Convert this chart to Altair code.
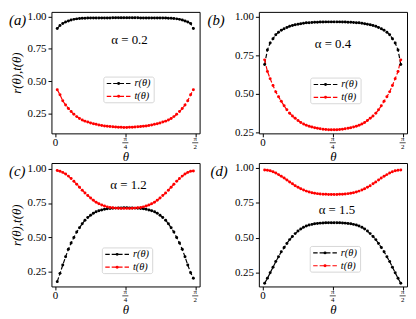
import altair as alt
import pandas as pd

FONT = "Liberation Serif"

theta = [0.020, 0.051, 0.082, 0.114, 0.145, 0.176, 0.207, 0.239, 0.270, 0.301,
         0.332, 0.363, 0.395, 0.426, 0.457, 0.488, 0.520, 0.551, 0.582, 0.613,
         0.644, 0.676, 0.707, 0.738, 0.769, 0.801, 0.832, 0.863, 0.894, 0.925,
         0.957, 0.988, 1.019, 1.050, 1.081, 1.113, 1.144, 1.175, 1.206, 1.238,
         1.269, 1.300, 1.331, 1.362, 1.394, 1.425, 1.456, 1.487, 1.519, 1.550]

r_a = [0.908, 0.932, 0.947, 0.958, 0.967, 0.974, 0.979, 0.983, 0.985, 0.987,
       0.988, 0.989, 0.989, 0.990, 0.990, 0.990, 0.990, 0.990, 0.990, 0.990,
       0.991, 0.991, 0.991, 0.991, 0.991, 0.991, 0.991, 0.991, 0.991, 0.991,
       0.990, 0.990, 0.990, 0.990, 0.990, 0.990, 0.990, 0.990, 0.989, 0.989,
       0.988, 0.987, 0.985, 0.983, 0.979, 0.974, 0.967, 0.958, 0.947, 0.908]
t_a = [0.433, 0.395, 0.348, 0.315, 0.288, 0.264, 0.243, 0.225, 0.211, 0.199,
       0.190, 0.183, 0.176, 0.170, 0.165, 0.160, 0.156, 0.153, 0.150, 0.148,
       0.146, 0.144, 0.143, 0.142, 0.141, 0.141, 0.142, 0.143, 0.144, 0.146,
       0.148, 0.150, 0.153, 0.156, 0.160, 0.165, 0.170, 0.176, 0.183, 0.190,
       0.199, 0.211, 0.225, 0.243, 0.264, 0.288, 0.315, 0.348, 0.395, 0.433]

r_b = [0.690, 0.785, 0.830, 0.858, 0.884, 0.900, 0.912, 0.922, 0.930, 0.938,
       0.944, 0.948, 0.951, 0.955, 0.958, 0.961, 0.962, 0.963, 0.964, 0.965,
       0.966, 0.966, 0.967, 0.967, 0.967, 0.967, 0.967, 0.967, 0.966, 0.966,
       0.965, 0.964, 0.963, 0.962, 0.961, 0.958, 0.955, 0.951, 0.948, 0.944,
       0.938, 0.930, 0.922, 0.912, 0.900, 0.884, 0.858, 0.830, 0.785, 0.690]
t_b = [0.720, 0.645, 0.598, 0.553, 0.512, 0.480, 0.451, 0.421, 0.395, 0.373,
       0.355, 0.340, 0.326, 0.313, 0.303, 0.295, 0.288, 0.283, 0.279, 0.275,
       0.272, 0.269, 0.267, 0.266, 0.265, 0.265, 0.266, 0.267, 0.269, 0.272,
       0.275, 0.279, 0.283, 0.288, 0.295, 0.303, 0.313, 0.326, 0.340, 0.355,
       0.373, 0.395, 0.421, 0.451, 0.480, 0.512, 0.553, 0.598, 0.645, 0.720]

r_c = [0.180, 0.240, 0.300, 0.360, 0.415, 0.460, 0.500, 0.540, 0.570, 0.600,
       0.625, 0.645, 0.662, 0.675, 0.686, 0.694, 0.700, 0.705, 0.708, 0.710,
       0.712, 0.713, 0.714, 0.714, 0.715, 0.715, 0.714, 0.714, 0.713, 0.712,
       0.710, 0.708, 0.705, 0.700, 0.694, 0.686, 0.675, 0.662, 0.645, 0.625,
       0.600, 0.570, 0.540, 0.500, 0.460, 0.415, 0.360, 0.300, 0.245, 0.205]
t_c = [0.985, 0.980, 0.972, 0.960, 0.945, 0.927, 0.907, 0.886, 0.864, 0.843,
       0.823, 0.804, 0.786, 0.770, 0.756, 0.744, 0.735, 0.728, 0.722, 0.718,
       0.715, 0.713, 0.712, 0.711, 0.711, 0.711, 0.711, 0.712, 0.713, 0.715,
       0.718, 0.722, 0.728, 0.735, 0.744, 0.756, 0.770, 0.786, 0.804, 0.823,
       0.843, 0.864, 0.886, 0.907, 0.927, 0.945, 0.960, 0.972, 0.980, 0.982]

r_d = [0.175, 0.210, 0.250, 0.290, 0.330, 0.365, 0.400, 0.430, 0.460, 0.487,
       0.510, 0.530, 0.548, 0.563, 0.575, 0.584, 0.591, 0.596, 0.600, 0.603,
       0.605, 0.606, 0.607, 0.607, 0.607, 0.607, 0.607, 0.607, 0.606, 0.605,
       0.603, 0.600, 0.596, 0.591, 0.584, 0.575, 0.563, 0.548, 0.530, 0.510,
       0.487, 0.460, 0.430, 0.400, 0.365, 0.330, 0.290, 0.250, 0.210, 0.175]
t_d = [0.985, 0.983, 0.979, 0.972, 0.963, 0.952, 0.940, 0.927, 0.913, 0.899,
       0.886, 0.873, 0.861, 0.851, 0.842, 0.834, 0.828, 0.823, 0.819, 0.816,
       0.814, 0.812, 0.811, 0.810, 0.810, 0.810, 0.810, 0.811, 0.812, 0.814,
       0.816, 0.819, 0.823, 0.828, 0.834, 0.842, 0.851, 0.861, 0.873, 0.886,
       0.899, 0.913, 0.927, 0.940, 0.952, 0.963, 0.972, 0.979, 0.983, 0.985]

series_names = ["r", "t"]
series_colors = ["black", "red"]
x_tick_values = [0, 0.785398, 1.570796]
x_tick_num = ["π", "π"]
x_tick_den = ["4", "2"]
y_tick_values = [0.25, 0.50, 0.75, 1.00]

W = 150


def legend_layers(x0, y0):
    c = alt.Chart(pd.DataFrame({"k": [0]}))
    layers = [
        c.mark_rect(fill="white", fillOpacity=0.85, stroke="#cccccc", strokeWidth=0.8,
                    cornerRadius=2).encode(
            x=alt.value(x0), x2=alt.value(x0 + 51), y=alt.value(y0), y2=alt.value(y0 + 26))
    ]
    for i, (name, col) in enumerate(zip(["r(θ)", "t(θ)"], series_colors)):
        yy = y0 + 6.5 + i * 13
        layers.append(c.mark_rule(color=col, strokeDash=[4.5, 2], strokeWidth=1.2).encode(
            x=alt.value(x0 + 3), x2=alt.value(x0 + 27), y=alt.value(yy)))
        layers.append(c.mark_circle(color=col, size=9, opacity=1).encode(
            x=alt.value(x0 + 15), y=alt.value(yy)))
        layers.append(c.mark_text(text=name, font=FONT, fontStyle="italic", fontSize=10.5,
                                  align="left", baseline="middle", color="black").encode(
            x=alt.value(x0 + 31), y=alt.value(yy)))
    return layers


def xlabel_layers(x, height):
    zero = pd.DataFrame({"theta": [x_tick_values[0]], "txt": ["0"]})
    num = pd.DataFrame({"theta": x_tick_values[1:], "txt": x_tick_num})
    den = pd.DataFrame({"theta": x_tick_values[1:], "txt": x_tick_den})
    bar = pd.DataFrame({"theta": [v - 0.034 for v in x_tick_values[1:]],
                        "theta2": [v + 0.034 for v in x_tick_values[1:]]})
    return [
        alt.Chart(zero).mark_text(font=FONT, fontSize=11, baseline="top", align="center",
                                  color="black").encode(x=x, y=alt.value(height + 3.5), text="txt:N"),
        alt.Chart(num).mark_text(font=FONT, fontSize=7, baseline="alphabetic", align="center",
                                 color="black").encode(x=x, y=alt.value(height + 8), text="txt:N"),
        alt.Chart(bar).mark_rule(color="black", strokeWidth=0.7).encode(
            x=x, x2="theta2:Q", y=alt.value(height + 9.5)),
        alt.Chart(den).mark_text(font=FONT, fontSize=7, baseline="alphabetic", align="center",
                                 color="black").encode(x=x, y=alt.value(height + 15.5), text="txt:N"),
    ]


def panel(r, t, ydom, alpha_txt, apos, tag, tagx, lpos, height, ytitle):
    df = pd.DataFrame({"theta": theta + theta, "val": r + t,
                       "s": [series_names[0]] * len(r) + [series_names[1]] * len(t)})
    x = alt.X("theta:Q",
              scale=alt.Scale(domain=[-0.045, 1.62], nice=False, zero=False),
              axis=alt.Axis(values=x_tick_values, labels=False,
                            title="θ", titleFontSize=13, titleFontStyle="italic",
                            titleFontWeight="normal", titlePadding=13.5),
              title="θ")
    yaxis_kw = dict(values=y_tick_values, format=".2f", labelFontSize=11, labelPadding=2)
    if ytitle:
        yaxis_kw.update(title="r(θ),t(θ)", titleFontSize=13, titleFontStyle="italic",
                        titleFontWeight="normal", titlePadding=4)
    else:
        yaxis_kw.update(title=None)
    y = alt.Y("val:Q", scale=alt.Scale(domain=ydom, nice=False, zero=False),
              axis=alt.Axis(**yaxis_kw))
    color = alt.Color("s:N", scale=alt.Scale(domain=series_names, range=series_colors), legend=None)
    base = alt.Chart(df)
    lines = base.mark_line(strokeDash=[4.5, 2], strokeWidth=1.2).encode(x=x, y=y, color=color)
    pts = base.mark_circle(size=9, opacity=1).encode(x=x, y=y, color=color)
    c = alt.Chart(pd.DataFrame({"k": [0]}))
    atext = c.mark_text(text=alpha_txt, font=FONT, fontSize=13, align="center",
                        baseline="middle", color="black").encode(
        x=alt.value(apos[0]), y=alt.value(apos[1]))
    ttext = c.mark_text(text=tag, font=FONT, fontStyle="italic", fontSize=15, align="left",
                        baseline="middle", color="black").encode(
        x=alt.value(tagx), y=alt.value(8))
    layers = [lines, pts] + xlabel_layers(x, height) + [atext, ttext] + legend_layers(*lpos)
    return alt.layer(*layers).properties(width=W, height=height)


pa = panel(r_a, t_a, [0.095, 1.037], "α = 0.2", (79, 28), "(a)", -43, (53, 66), 123, True)
pb = panel(r_b, t_b, [0.242, 1.032], "α = 0.4", (75, 33), "(b)", -52, (52.5, 67), 123, False)
pc = panel(r_c, t_c, [0.145, 1.040], "α = 1.2", (78, 22.5), "(c)", -43, (51.5, 86), 125, True)
pd_ = panel(r_d, t_d, [0.152, 1.035], "α = 1.5", (79, 48), "(d)", -49, (52, 84.5), 125, False)

chart = alt.concat(pa, pb, pc, pd_, columns=2, spacing={"row": 30, "column": 60},
                   bounds="flush").properties(padding=0).configure_view(
    stroke="black", strokeWidth=1).configure_axis(
    grid=False, domain=False, tickColor="black", tickSize=3.5, labelColor="black",
    titleColor="black", labelFont=FONT, titleFont=FONT)

chart.save("out.html", embed_options={"renderer": "svg", "actions": False})
